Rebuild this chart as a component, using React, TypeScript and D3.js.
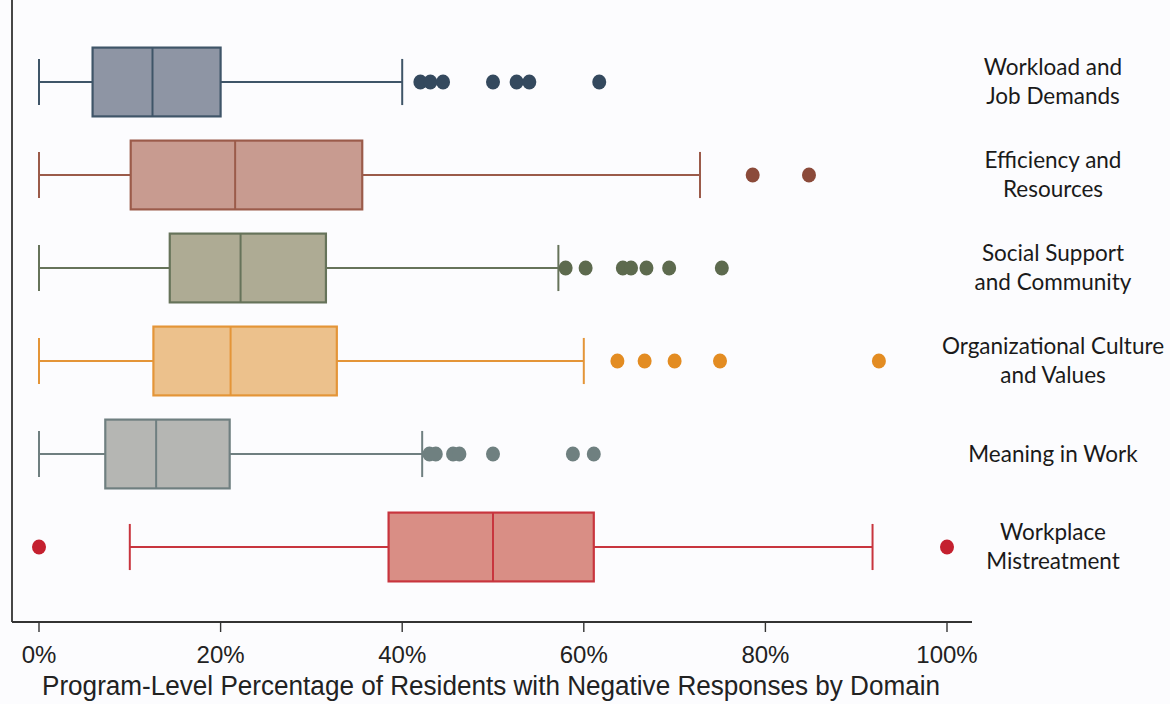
import React from "react";
import * as d3 from "d3";

const domains = [
  ["Workload and", "Job Demands"],
  ["Efficiency and", "Resources"],
  ["Social Support", "and Community"],
  ["Organizational Culture", "and Values"],
  ["Meaning in Work"],
  ["Workplace", "Mistreatment"],
];
const whiskerLow = [0, 0, 0, 0, 0, 10.0];
const q1 = [5.9, 10.1, 14.4, 12.6, 7.3, 38.5];
const median = [12.5, 21.6, 22.2, 21.1, 12.9, 50.0];
const q3 = [20.0, 35.6, 31.6, 32.8, 21.0, 61.1];
const whiskerHigh = [40.0, 72.8, 57.2, 60.0, 42.2, 91.8];
const outliers = [
  [42.0, 43.1, 44.5, 50.0, 52.6, 54.0, 61.7],
  [78.6, 84.8],
  [58.0, 60.2, 64.3, 65.2, 66.9, 69.4, 75.2],
  [63.7, 66.7, 70.0, 75.0, 92.5],
  [43.0, 43.7, 45.6, 46.3, 50.0, 58.8, 61.1],
  [0, 100],
];
const fills = ["#8e95a4", "#c89b90", "#aeab94", "#ecc18c", "#b5b6b3", "#d98e85"];
const strokes = ["#3f5568", "#9b5b4a", "#66735a", "#e49538", "#6f7f80", "#c8353e"];
const dotColors = ["#34495e", "#8b4a3a", "#5d6a4e", "#e38c22", "#6f8080", "#c4202f"];
const tickValues = [0, 20, 40, 60, 80, 100];
const axisTitle = "Program-Level Percentage of Residents with Negative Responses by Domain";

export default function App() {
  const W = 1170, H = 704;
  const x = d3.scaleLinear().domain([0, 100]).range([39, 947]);
  const y = d3.scaleBand().domain(domains.map((_, i) => String(i))).range([35.5, 593.5]).paddingInner(0.26).paddingOuter(0.13);
  const axisY = 622;
  const bw = y.bandwidth();
  return (
    <svg width={W} height={H} style={{ position: "absolute", left: 0, top: 0, background: "#fcfcfe" }}>
      <rect x={0} y={0} width={W} height={H} fill="#fcfcfe" />
      {domains.map((lab, i) => {
        const top = y(String(i))!;
        const cy = top + bw / 2;
        const cap = bw * 0.67;
        return (
          <g key={i}>
            <line x1={x(whiskerLow[i])} x2={x(q1[i])} y1={cy} y2={cy} stroke={strokes[i]} strokeWidth={2} />
            <line x1={x(q3[i])} x2={x(whiskerHigh[i])} y1={cy} y2={cy} stroke={strokes[i]} strokeWidth={2} />
            <line x1={x(whiskerLow[i])} x2={x(whiskerLow[i])} y1={cy - cap / 2} y2={cy + cap / 2} stroke={strokes[i]} strokeWidth={2} />
            <line x1={x(whiskerHigh[i])} x2={x(whiskerHigh[i])} y1={cy - cap / 2} y2={cy + cap / 2} stroke={strokes[i]} strokeWidth={2} />
            <rect x={x(q1[i])} y={top} width={x(q3[i]) - x(q1[i])} height={bw} fill={fills[i]} stroke={strokes[i]} strokeWidth={2.2} />
            <line x1={x(median[i])} x2={x(median[i])} y1={top} y2={top + bw} stroke={strokes[i]} strokeWidth={2} />
            {outliers[i].map((v, j) => (
              <ellipse key={j} cx={x(v)} cy={cy} rx={7} ry={7.5} fill={dotColors[i]} />
            ))}
            {lab.map((t, k) => (
              <text key={k} x={1053} y={cy + (lab.length === 1 ? 0 : k === 0 ? -15 : 14)} dy="0.35em" textAnchor="middle"
                fontFamily="Lato, 'Open Sans', sans-serif" fontSize={22.5} fill="#1a1a1a">{t}</text>
            ))}
          </g>
        );
      })}
      <line x1={12} x2={12} y1={0} y2={axisY} stroke="#333" strokeWidth={1.8} />
      <line x1={12} x2={972} y1={axisY} y2={axisY} stroke="#333" strokeWidth={1.8} />
      {tickValues.map((t) => (
        <g key={t}>
          <line x1={x(t)} x2={x(t)} y1={axisY} y2={axisY + 10} stroke="#333" strokeWidth={1.4} />
          <text x={x(t)} y={663} textAnchor="middle" fontFamily="'Liberation Sans', Arial, sans-serif" fontSize={24} fill="#222">{t}%</text>
        </g>
      ))}
      <text x={42} y={695} textAnchor="start" fontFamily="'Liberation Sans', Arial, sans-serif" fontSize={27} fill="#222" textLength={898} lengthAdjust="spacingAndGlyphs">{axisTitle}</text>
    </svg>
  );
}
